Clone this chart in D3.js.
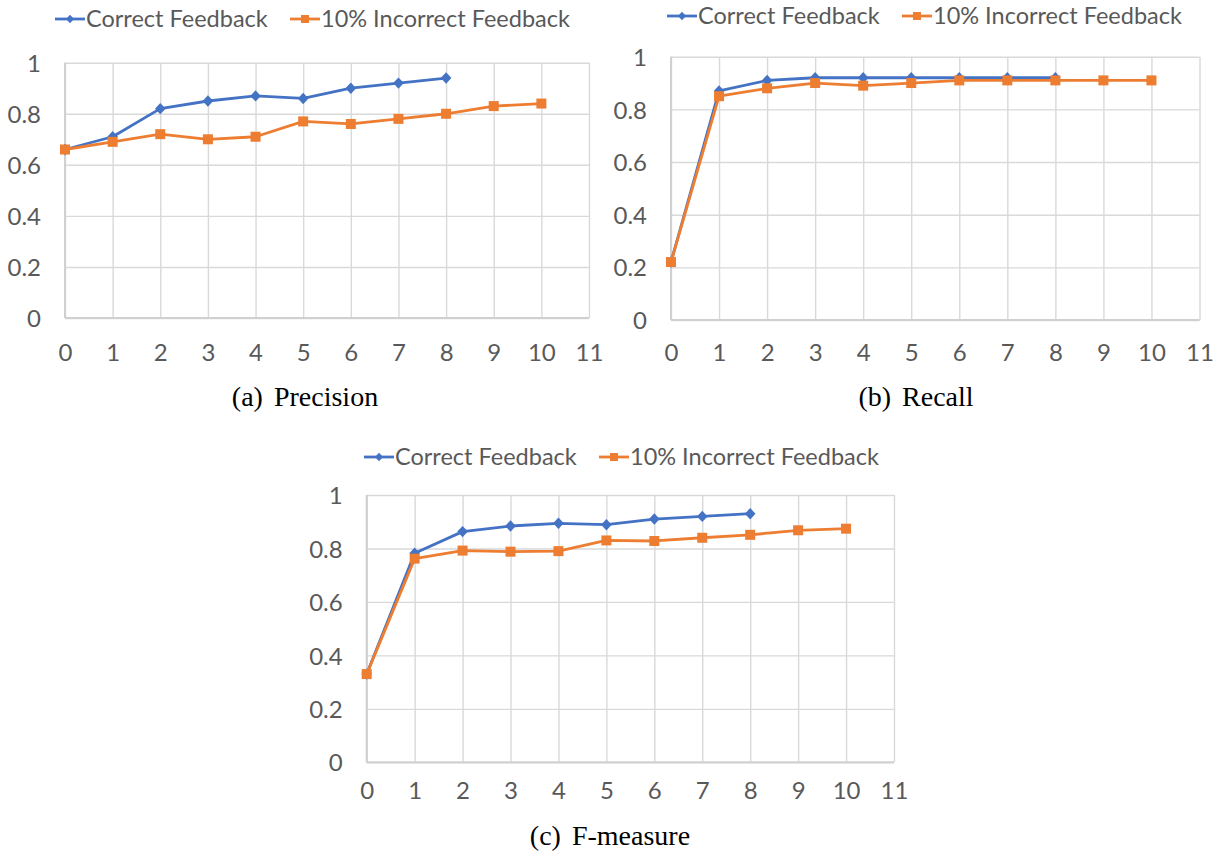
<!DOCTYPE html>
<html>
<head>
<meta charset="utf-8">
<script src="https://cdn.jsdelivr.net/npm/d3@7"></script>
<style>
  body { margin: 0; background: #ffffff; }
  svg { display: block; }
</style>
</head>
<body>
<svg id="chart" width="1220" height="852"></svg>
<script>
// ---- data ----
const iterations = [0, 1, 2, 3, 4, 5, 6, 7, 8, 9, 10];
const xTickValues = [0, 1, 2, 3, 4, 5, 6, 7, 8, 9, 10, 11];
const yTickValues = [0, 0.2, 0.4, 0.6, 0.8, 1];
const yTickLabels = ["0", "0.2", "0.4", "0.6", "0.8", "1"];
const seriesNames = ["Correct Feedback", "10% Incorrect Feedback"];

const precisionCorrect   = [0.66, 0.71, 0.82, 0.85, 0.87, 0.86, 0.90, 0.92, 0.94];
const precisionIncorrect = [0.66, 0.69, 0.72, 0.70, 0.71, 0.77, 0.76, 0.78, 0.80, 0.83, 0.84];

const recallCorrect   = [0.22, 0.87, 0.91, 0.92, 0.92, 0.92, 0.92, 0.92, 0.92];
const recallIncorrect = [0.22, 0.85, 0.88, 0.90, 0.89, 0.90, 0.91, 0.91, 0.91, 0.91, 0.91];

const fCorrect   = [0.33, 0.782, 0.863, 0.884, 0.894, 0.889, 0.910, 0.920, 0.930];
const fIncorrect = [0.33, 0.762, 0.792, 0.788, 0.790, 0.830, 0.828, 0.840, 0.851, 0.868, 0.874];

const captionLetters = ["(a)", "(b)", "(c)"];
const captionTitles = ["Precision", "Recall", "F-measure"];

// ---- layout / style ----
const colors = ["#4472C4", "#ED7D31"];
const textColor = "#595959";
const gridColor = "#d9d9d9";
const sansFont = "Lato, 'Open Sans', sans-serif";
const serifFont = "'Liberation Serif', 'DejaVu Serif', serif";

const panels = [
  { correct: precisionCorrect, incorrect: precisionIncorrect,
    left: 65, right: 589, top: 62.7, bottom: 318, xLabelOff: 34,
    legendX: 55, legendY: 19, captionX: 305, captionY: 406 },
  { correct: recallCorrect, incorrect: recallIncorrect,
    left: 671, right: 1199.5, top: 56.7, bottom: 320, xLabelOff: 32,
    legendX: 667, legendY: 16, captionX: 916, captionY: 406 },
  { correct: fCorrect, incorrect: fIncorrect,
    left: 366.7, right: 894, top: 495, bottom: 762.3, xLabelOff: 28,
    legendX: 364, legendY: 457, captionX: 610, captionY: 845 }
];

const svg = d3.select("#chart");
const diamond = d3.symbol().type(d3.symbolSquare);

panels.forEach((p, i) => {
  const g = svg.append("g");
  const x = d3.scaleLinear().domain([0, 11]).range([p.left, p.right]);
  const y = d3.scaleLinear().domain([0, 1]).range([p.bottom, p.top]);

  // horizontal gridlines + y labels
  const yAxis = d3.axisLeft(y).tickValues(yTickValues)
    .tickFormat((d, k) => yTickLabels[k])
    .tickSize(-(p.right - p.left)).tickPadding(24);
  const ya = g.append("g").attr("transform", `translate(${p.left},0)`).call(yAxis);
  ya.select(".domain").remove();
  ya.selectAll("line").attr("stroke", gridColor).attr("stroke-width", 1.4);
  ya.selectAll("text").attr("fill", textColor).attr("font-family", sansFont)
    .attr("font-size", 24).attr("dy", "0.36em").attr("x", -24);

  // vertical gridlines + x labels
  const xAxis = d3.axisBottom(x).tickValues(xTickValues)
    .tickSize(-(p.bottom - p.top)).tickPadding(0);
  const xa = g.append("g").attr("transform", `translate(0,${p.bottom})`).call(xAxis);
  xa.select(".domain").remove();
  xa.selectAll("line").attr("stroke", gridColor).attr("stroke-width", 1.4);
  xa.selectAll("text").attr("fill", textColor).attr("font-family", sansFont)
    .attr("font-size", 24).attr("y", p.xLabelOff).attr("dy", "0.36em");

  // axis lines
  g.append("line").attr("x1", p.left).attr("x2", p.right).attr("y1", p.bottom).attr("y2", p.bottom)
    .attr("stroke", "#d0d0d0").attr("stroke-width", 2);
  g.append("line").attr("x1", p.left).attr("x2", p.left).attr("y1", p.top).attr("y2", p.bottom)
    .attr("stroke", "#d0d0d0").attr("stroke-width", 2);

  const line = d3.line().x((d, k) => x(iterations[k])).y(d => y(d));

  // correct feedback series (diamonds)
  g.append("path").datum(p.correct).attr("d", line).attr("fill", "none")
    .attr("stroke", colors[0]).attr("stroke-width", 2.8).attr("stroke-linejoin", "round");
  g.selectAll(".dia").data(p.correct).enter().append("path")
    .attr("d", diamond.size(56)())
    .attr("transform", (d, k) => `translate(${x(iterations[k])},${y(d)}) scale(1,1.08) rotate(45)`)
    .attr("fill", colors[0]);

  // incorrect feedback series (squares)
  g.append("path").datum(p.incorrect).attr("d", line).attr("fill", "none")
    .attr("stroke", colors[1]).attr("stroke-width", 2.8).attr("stroke-linejoin", "round");
  g.selectAll(".sq").data(p.incorrect).enter().append("rect")
    .attr("x", (d, k) => x(iterations[k]) - 5).attr("y", d => y(d) - 5)
    .attr("width", 10).attr("height", 10).attr("fill", colors[1]);

  // legend
  const lg = g.append("g").attr("transform", `translate(${p.legendX},${p.legendY})`);
  [0, 1].forEach(s => {
    const ox = s === 0 ? 0 : 235;
    lg.append("line").attr("x1", ox).attr("x2", ox + 30).attr("y1", 0).attr("y2", 0)
      .attr("stroke", colors[s]).attr("stroke-width", 2.8);
    if (s === 0) {
      lg.append("path").attr("d", diamond.size(32)())
        .attr("transform", `translate(${ox + 15},0) scale(1,1.08) rotate(45)`).attr("fill", colors[0]);
    } else {
      lg.append("rect").attr("x", ox + 11).attr("y", -4).attr("width", 8).attr("height", 8)
        .attr("fill", colors[1]);
    }
    lg.append("text").attr("x", ox + 31).attr("y", 0).attr("dy", "0.36em")
      .attr("fill", textColor).attr("font-family", sansFont).attr("font-size", 23.5)
      .text(seriesNames[s]);
  });

  // caption
  const cap = g.append("text").attr("x", p.captionX).attr("y", p.captionY)
    .attr("text-anchor", "middle").attr("font-family", serifFont).attr("font-size", 28)
    .attr("fill", "#000");
  cap.append("tspan").text(captionLetters[i]);
  cap.append("tspan").attr("dx", 11).text(captionTitles[i]);
});
</script>
</body>
</html>
